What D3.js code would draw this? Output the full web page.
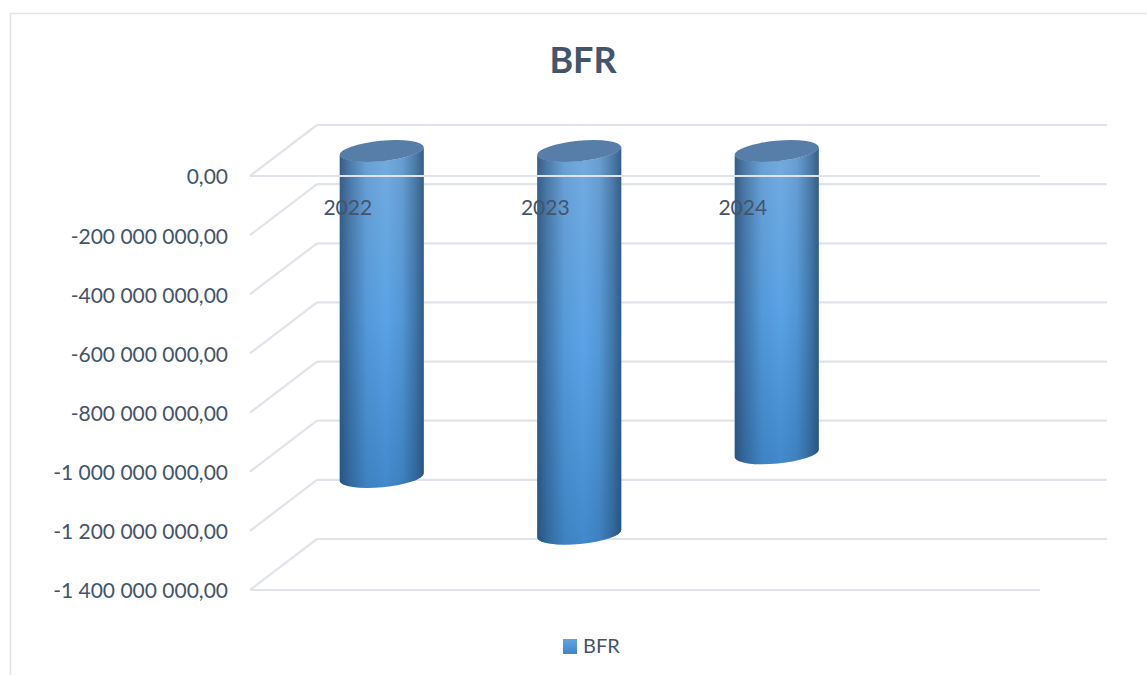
<!DOCTYPE html>
<html><head><meta charset="utf-8">
<script src="https://cdn.jsdelivr.net/npm/d3@7/dist/d3.min.js"></script>
<style>html,body{margin:0;padding:0;background:#fff}svg{display:block}
text{font-family:Lato,"Open Sans",sans-serif;fill:#44546a}</style></head>
<body><div id="chart"></div>
<script>
const chartTitle = "BFR";
const categories = ["2022", "2023", "2024", ""];
const seriesName = "BFR";
const seriesValues = [-1105000000, -1297000000, -1025000000];
const yTicks = [0, -200000000, -400000000, -600000000, -800000000, -1000000000, -1200000000, -1400000000];

const W = 1147, H = 675;
const depthX = 67, depthY = 51;
const grid = "#e0e4ea";
const svg = d3.select("#chart").append("svg").attr("width", W).attr("height", H);
const x = d3.scaleBand().domain(categories).range([250, 1040]);
const y = d3.scaleLinear().domain([-1400000000, 0]).range([590, 176]);
const loc = d3.formatLocale({decimal: ",", thousands: " ", grouping: [3], currency: ["", ""], minus: "-"});
const fmt = loc.format(",.2f");

const defs = svg.append("defs");
const vg = defs.append("linearGradient").attr("id", "body").attr("x1", 0).attr("y1", 0).attr("x2", 0).attr("y2", 1);
[[0, "#74abdf"], [0.5, "#5aa3e6"], [1, "#4189cb"]].forEach(s => vg.append("stop").attr("offset", s[0]).attr("stop-color", s[1]));
const hg = defs.append("linearGradient").attr("id", "shade").attr("x1", 0).attr("y1", 0).attr("x2", 1).attr("y2", 0);
[[0, "#1f3f63", 0.72], [0.12, "#1f3f63", 0.45], [0.32, "#1f3f63", 0.1], [0.55, "#1f3f63", 0], [0.74, "#1f3f63", 0.12], [0.9, "#1f3f63", 0.45], [1, "#1f3f63", 0.72]]
  .forEach(s => hg.append("stop").attr("offset", s[0]).attr("stop-color", s[1]).attr("stop-opacity", s[2]));
const lg = defs.append("linearGradient").attr("id", "swatch").attr("x1", 0).attr("y1", 0).attr("x2", 0).attr("y2", 1);
[[0, "#62a4e2"], [1, "#3f87c8"]].forEach(s => lg.append("stop").attr("offset", s[0]).attr("stop-color", s[1]));

// chart frame
svg.append("path").attr("d", `M10.5,${H}V13.5H${W}`).attr("fill", "none").attr("stroke", "#e0e4ec").attr("stroke-width", 1.6);

// title
svg.append("text").attr("x", 583).attr("y", 73).attr("text-anchor", "middle")
  .attr("font-size", 36).attr("font-weight", 700).text(chartTitle);

// back wall gridlines and side-wall diagonals
const gl = svg.append("g").attr("fill", "none").attr("stroke", grid).attr("stroke-width", 2.2);
gl.selectAll("line.back").data(yTicks).join("line").attr("class", "back")
  .attr("x1", x.range()[0] + depthX).attr("x2", x.range()[1] + depthX)
  .attr("y1", d => y(d) - depthY).attr("y2", d => y(d) - depthY);
gl.selectAll("line.side").data(yTicks).join("line").attr("class", "side")
  .attr("x1", x.range()[0]).attr("x2", x.range()[0] + depthX)
  .attr("y1", d => y(d)).attr("y2", d => y(d) - depthY);
// floor front edge
gl.append("line").attr("x1", x.range()[0]).attr("x2", x.range()[1]).attr("y1", y(-1400000000)).attr("y2", y(-1400000000));

// cylinders
const barW = 84, rx = 42.2, ry = 10.2, tilt = -5.4, dy = 4;
const barData = seriesValues.map((v, i) => ({v, c: categories[i]}));
const bars = svg.append("g").selectAll("g").data(barData).join("g");
const cx = d => x(d.c) + x.bandwidth() / 2 + depthX / 2 - 0.5;
const topY = y(0) - depthY / 2 + 0.5;
const bodyPath = d => {
  const l = cx(d) - barW / 2, r = cx(d) + barW / 2, b = y(d.v) - depthY / 2;
  return `M${l},${topY + dy}V${b + dy}A${rx},${ry} ${tilt} 0 0 ${r},${b - dy}V${topY - dy}A${rx},${ry} ${tilt} 0 1 ${l},${topY + dy}Z`;
};
bars.append("path").attr("d", bodyPath).attr("fill", "url(#body)");
bars.append("path").attr("d", bodyPath).attr("fill", "url(#shade)");
bars.append("ellipse").attr("cx", cx).attr("cy", topY).attr("rx", rx).attr("ry", ry)
  .attr("transform", d => `rotate(${tilt} ${cx(d)} ${topY})`).attr("fill", "#577ea8");

// zero line in front of the bars
svg.append("line").attr("x1", x.range()[0]).attr("x2", x.range()[1]).attr("y1", y(0)).attr("y2", y(0))
  .attr("stroke", grid).attr("stroke-width", 2.2);

// axes
const yAxis = svg.append("g").attr("transform", `translate(${x.range()[0]},0)`)
  .call(d3.axisLeft(y).tickValues(yTicks).tickFormat(fmt).tickSize(0).tickPadding(22));
yAxis.select(".domain").remove();
yAxis.selectAll("text").attr("font-size", 21).attr("dy", "0.38em").style("font-family", "Lato").attr("fill", "#44546a");

const xAxis = svg.append("g").attr("transform", `translate(-1,${y(0)})`)
  .call(d3.axisBottom(x).tickSize(0).tickPadding(24));
xAxis.select(".domain").remove();
xAxis.selectAll("text").attr("font-size", 21).style("font-family", "Lato").attr("fill", "#44546a");

// legend
svg.append("rect").attr("x", 563).attr("y", 639).attr("width", 14).attr("height", 15).attr("fill", "url(#swatch)");
svg.append("text").attr("x", 583).attr("y", 653).attr("font-size", 20).text(seriesName);
</script></body></html>
